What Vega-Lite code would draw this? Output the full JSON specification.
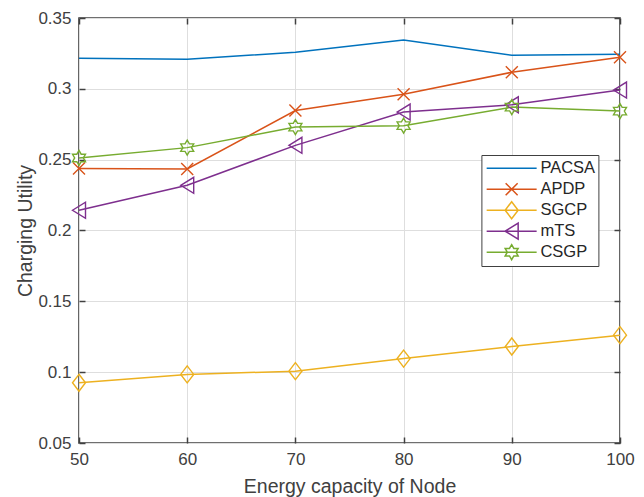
{
  "$schema": "https://vega.github.io/schema/vega-lite/v6.json",
  "autosize": "none",
  "width": 541,
  "height": 425,
  "padding": {"left": 79, "top": 18, "right": 24, "bottom": 54},
  "background": "white",
  "config": {
    "font": "Liberation Sans",
    "view": {"stroke": "#404040", "strokeWidth": 1.6},
    "axis": {
      "labelFont": "Liberation Sans",
      "titleFont": "Liberation Sans",
      "labelFontSize": 17,
      "titleFontSize": 19.5,
      "labelColor": "#404040",
      "titleColor": "#404040",
      "titleFontWeight": "normal",
      "labelFlush": false,
      "domain": false,
      "tickColor": "#404040",
      "tickSize": -6,
      "tickWidth": 1.5,
      "gridColor": "#dedede",
      "gridWidth": 1
    }
  },
  "data": {
    "values": [
      {"x": 50, "series": "PACSA", "y": 0.3216},
      {"x": 60, "series": "PACSA", "y": 0.3209},
      {"x": 70, "series": "PACSA", "y": 0.3258},
      {"x": 80, "series": "PACSA", "y": 0.3345},
      {"x": 90, "series": "PACSA", "y": 0.3237},
      {"x": 100, "series": "PACSA", "y": 0.3244},
      {"x": 50, "series": "APDP", "y": 0.2437},
      {"x": 60, "series": "APDP", "y": 0.2434},
      {"x": 70, "series": "APDP", "y": 0.2847},
      {"x": 80, "series": "APDP", "y": 0.2962},
      {"x": 90, "series": "APDP", "y": 0.3117},
      {"x": 100, "series": "APDP", "y": 0.3223},
      {"x": 50, "series": "SGCP", "y": 0.0925},
      {"x": 60, "series": "SGCP", "y": 0.0984},
      {"x": 70, "series": "SGCP", "y": 0.1007},
      {"x": 80, "series": "SGCP", "y": 0.1096},
      {"x": 90, "series": "SGCP", "y": 0.1181},
      {"x": 100, "series": "SGCP", "y": 0.1261},
      {"x": 50, "series": "mTS", "y": 0.2143},
      {"x": 60, "series": "mTS", "y": 0.2319},
      {"x": 70, "series": "mTS", "y": 0.2601},
      {"x": 80, "series": "mTS", "y": 0.2836},
      {"x": 90, "series": "mTS", "y": 0.2887},
      {"x": 100, "series": "mTS", "y": 0.2991},
      {"x": 50, "series": "CSGP", "y": 0.2512},
      {"x": 60, "series": "CSGP", "y": 0.2585},
      {"x": 70, "series": "CSGP", "y": 0.273},
      {"x": 80, "series": "CSGP", "y": 0.274},
      {"x": 90, "series": "CSGP", "y": 0.2871},
      {"x": 100, "series": "CSGP", "y": 0.2843}
    ]
  },
  "resolve": {"axis": {"x": "independent", "y": "independent"}},
  "layer": [
    {
      "mark": {"type": "line", "strokeWidth": 1.5, "clip": false},
      "encoding": {
        "x": {
          "field": "x", "type": "quantitative",
          "scale": {"domain": [50, 100], "nice": false, "zero": false},
          "axis": {"values": [50, 60, 70, 80, 90, 100], "title": "Energy capacity of Node", "labelPadding": 14, "titlePadding": 10, "grid": true}
        },
        "y": {
          "field": "y", "type": "quantitative",
          "scale": {"domain": [0.05, 0.35], "nice": false, "zero": false},
          "axis": {"values": [0.05, 0.1, 0.15, 0.2, 0.25, 0.3, 0.35], "format": ".2~f", "title": "Charging Utility", "labelPadding": 14, "titlePadding": 2.5, "grid": true}
        },
        "color": {
          "field": "series", "type": "nominal",
          "scale": {
            "domain": ["PACSA", "APDP", "SGCP", "mTS", "CSGP"],
            "range": ["#0072BD", "#D95319", "#EDB120", "#7E2F8E", "#77AC30"]
          },
          "legend": {
            "title": null,
            "orient": "none",
            "legendX": 402.4,
            "legendY": 137,
            "padding": 3,
            "rowPadding": 0,
            "clipHeight": 20.4,
            "strokeColor": "#404040",
            "fillColor": "white",
            "labelFont": "Liberation Sans",
            "labelFontSize": 16.5,
            "labelColor": "#262626",
            "symbolOffset": 19,
            "labelOffset": 20.5,
            "symbolSize": 196,
            "symbolStrokeWidth": 1.5,
            "encode": {
              "symbols": {
                "update": {
                  "shape": {"signal": "datum.value === 'APDP' ? 'M-3.571,0H3.571M-0.857,-0.857L0.857,0.857M-0.857,0.857L0.857,-0.857' : datum.value === 'SGCP' ? 'M-3.571,0H3.571M0,-1.214L0.929,0L0,1.214L-0.929,0Z' : datum.value === 'mTS' ? 'M-3.571,0H3.571M-0.929,0L0.929,-1.143L0.929,1.143Z' : datum.value === 'CSGP' ? 'M-3.571,0H3.571M0,-1.071L0.309,-0.536L0.928,-0.536L0.619,0L0.928,0.536L0.309,0.536L0,1.071L-0.309,0.536L-0.928,0.536L-0.619,0L-0.928,-0.536L-0.309,-0.536Z' : 'M-3.571,0H3.571'"},
                  "fill": {"value": "transparent"},
                  "stroke": {"scale": "color", "field": "value"},
                  "strokeWidth": {"value": 1.5},
                  "size": {"value": 196},
                  "opacity": {"value": 1}
                }
              }
            }
          }
        }
      }
    },
    {
      "transform": [{"filter": "datum.series !== 'PACSA'"}],
      "mark": {"type": "point", "filled": false, "size": 400, "strokeWidth": 1.4, "opacity": 1, "clip": false},
      "encoding": {
        "x": {
          "field": "x", "type": "quantitative",
          "axis": {"orient": "top", "values": [50, 60, 70, 80, 90, 100], "labels": false, "title": null, "grid": false}
        },
        "y": {
          "field": "y", "type": "quantitative",
          "axis": {"orient": "right", "values": [0.05, 0.1, 0.15, 0.2, 0.25, 0.3, 0.35], "labels": false, "title": null, "grid": false}
        },
        "color": {"field": "series", "type": "nominal", "legend": null},
        "shape": {
          "field": "series", "type": "nominal",
          "scale": {
            "domain": ["APDP", "SGCP", "mTS", "CSGP"],
            "range": [
              "M-0.6,-0.6L0.6,0.6M-0.6,0.6L0.6,-0.6",
              "M0,-0.85L0.65,0L0,0.85L-0.65,0Z",
              "M-0.65,0L0.65,-0.8L0.65,0.8Z",
              "M0,-0.75L0.2165,-0.375L0.6495,-0.375L0.433,0L0.6495,0.375L0.2165,0.375L0,0.75L-0.2165,0.375L-0.6495,0.375L-0.433,0L-0.6495,-0.375L-0.2165,-0.375Z"
            ]
          },
          "legend": null
        }
      }
    }
  ]
}
